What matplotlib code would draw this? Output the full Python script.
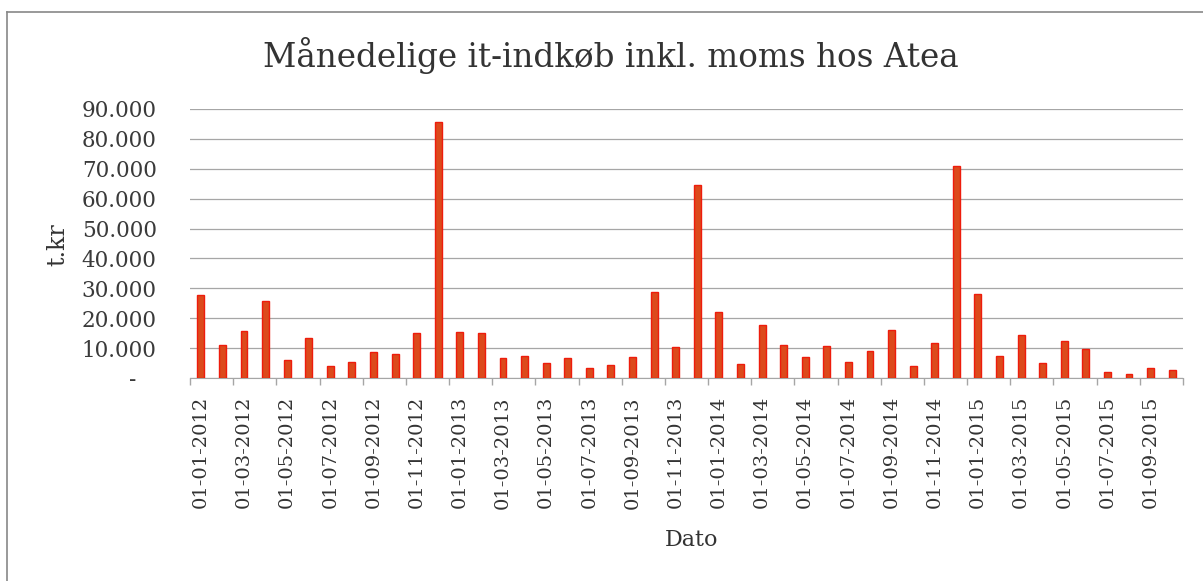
import matplotlib
matplotlib.use("Agg")
import matplotlib.pyplot as plt
from matplotlib.lines import Line2D

# maanedlige indkoeb (t.kr), jan 2012 - okt 2015
maaneder = ["%02d-%d" % (m, y) for y in range(2012, 2016) for m in range(1, 13)][:46]
vaerdier = [27700, 11200, 15700, 25800, 6100, 13300, 3900, 5400, 8600, 8100, 14900, 85600,
            15400, 14900, 6800, 7500, 5000, 6600, 3300, 4500, 6900, 28800, 10500, 64600,
            22200, 4600, 17700, 11200, 7100, 10800, 5400, 9200, 16000, 4100, 11600, 71000,
            28200, 7400, 14400, 5100, 12300, 9700, 1900, 1200, 3200, 2800]
y_ticks = list(range(0, 90001, 10000))
y_labels = ["-   "] + ["{:,}".format(v).replace(",", ".") for v in y_ticks[1:]]

serif = "DejaVu Serif"
grid_col = "#a6a6a6"

fig = plt.figure(figsize=(12.03, 5.81), dpi=100)
ax = fig.add_axes([190/1203, 1-378/581, (1183-190)/1203, (378-109)/581])

x = list(range(len(vaerdier)))
ax.bar(x, vaerdier, width=0.32, color="#dc4a1c", edgecolor="#ee1c0c", linewidth=1.0, zorder=3)

ax.set_xlim(-0.5, len(vaerdier) - 0.5)
ax.set_ylim(0, 90000)
ax.set_yticks(y_ticks)
ax.set_yticklabels(y_labels, fontfamily=serif, fontsize=15.5, color="#3a3a3a")
ax.tick_params(axis="y", length=0, pad=24)
ax.yaxis.grid(True, color=grid_col, linewidth=0.9, zorder=0)

ax.set_xticks(x[::2])
ax.set_xticklabels(["01-" + m for m in maaneder[::2]], rotation=90,
                   fontfamily=serif, fontsize=14, color="#333333")
ax.set_xticks([i - 0.5 for i in range(0, len(vaerdier) + 1, 2)], minor=True)
ax.tick_params(axis="x", which="major", length=0, pad=13)
ax.tick_params(axis="x", which="minor", length=5, color=grid_col, width=1)

for s in ["top", "right", "left"]:
    ax.spines[s].set_visible(False)
ax.spines["bottom"].set_color(grid_col)

fig.text(611/1203, 1-55/581, "Månedelige it-indkøb inkl. moms hos Atea",
         ha="center", va="center", fontfamily=serif, fontsize=23.5, color="#333333")
fig.text(58/1203, 1-245/581, "t.kr", rotation=90, ha="center", va="center",
         fontfamily=serif, fontsize=17, color="#333333")
fig.text(692/1203, 1-540/581, "Dato", ha="center", va="center",
         fontfamily=serif, fontsize=16, color="#333333")

# ramme
fig.add_artist(Line2D([7/1203, 1], [1-12/581, 1-12/581], color="#888888", lw=1.2))
fig.add_artist(Line2D([7/1203, 7/1203], [0, 1-12/581], color="#888888", lw=1.2))

fig.savefig("out.png", dpi=100)
